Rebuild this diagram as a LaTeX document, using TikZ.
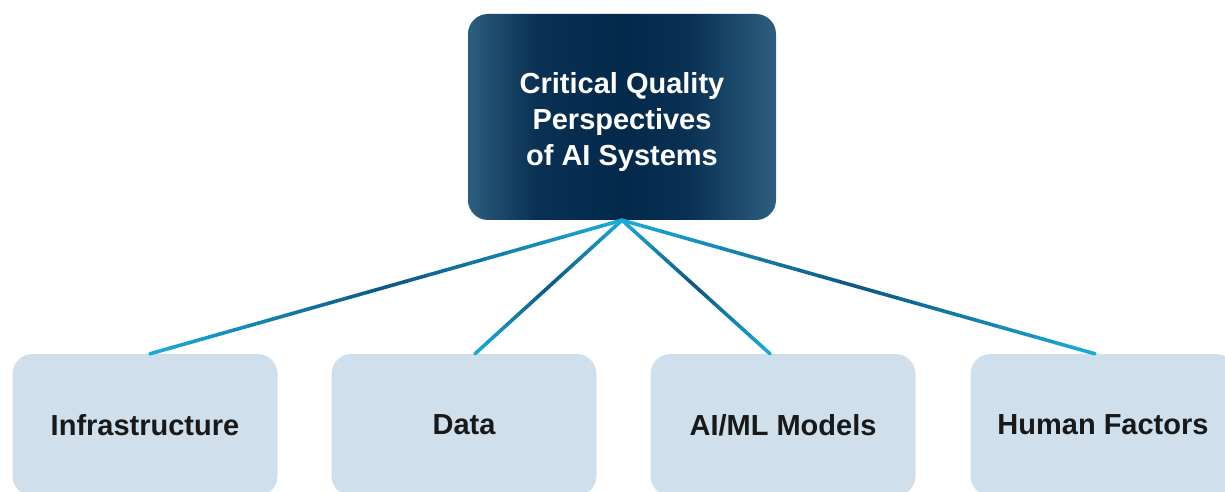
\documentclass[tikz,border=0pt]{standalone}
\usepackage{fontspec}
\setmainfont{Liberation Sans}
\usepackage{xcolor}
\usetikzlibrary{calc}

\definecolor{hubedge}{HTML}{2D5E80}
\definecolor{hubmid}{HTML}{03294B}
\definecolor{leaffill}{HTML}{CFE0EC}
\definecolor{linkcyan}{HTML}{1AADDA}
\definecolor{linkdark}{HTML}{0D5682}
% box spans 25bp..75bp of the shading
\pgfdeclarehorizontalshading{hubshade}{100bp}{
	color(0bp)=(hubedge); color(25bp)=(hubedge); color(28bp)=(hubedge!75!hubmid);
	color(36bp)=(hubmid!85!hubedge); color(50bp)=(hubmid); color(61bp)=(hubmid!85!hubedge);
	color(70bp)=(hubedge!70!hubmid); color(75bp)=(hubedge); color(100bp)=(hubedge)}

\begin{document}
\begin{tikzpicture}[x=1pt,y=1pt,
		hubbox/.style={rounded corners=20pt,minimum width=308pt,minimum height=206pt,
			shading=hubshade,
			text=white,align=center,font=\bfseries\fontsize{29}{36}\selectfont},
		leafbox/.style={rounded corners=20pt,fill=leaffill,minimum width=265pt,minimum height=142pt,
			text=black!90,font=\bfseries\fontsize{29}{34}\selectfont},
		link/.style={line width=3.6pt,line cap=round}]
		\useasboundingbox (0,0) rectangle (1225,492);
		\clip (0,0) rectangle (1225,492);
		\node[hubbox] (hub) at (622,375) {\rule{0pt}{31pt}Critical Quality\\Perspectives\\of AI Systems};
		\node[leafbox] (infra) at (145,67) {Infrastructure};
		\node[leafbox] (data) at (464,67) {Data};
		\node[leafbox] (models) at (783,67) {AI/ML Models};
		\node[leafbox] (human) at (1103,67) {Human Factors};
		\foreach \tgt/\dx in {infra/5,data/11,models/-13,human/-8}{
			\foreach \i in {0,...,23}{
				\pgfmathsetmacro{\ta}{\i/24}
				\pgfmathsetmacro{\tb}{(\i+1)/24}
				\pgfmathsetmacro{\mix}{100*abs(\i+0.5-12)/12}
				\draw[link,color=linkcyan!\mix!linkdark]
					($(hub.south)!\ta!([xshift=\dx pt]\tgt.north)$) -- ($(hub.south)!\tb!([xshift=\dx pt]\tgt.north)$);
			}
		}
\end{tikzpicture}
\end{document}
